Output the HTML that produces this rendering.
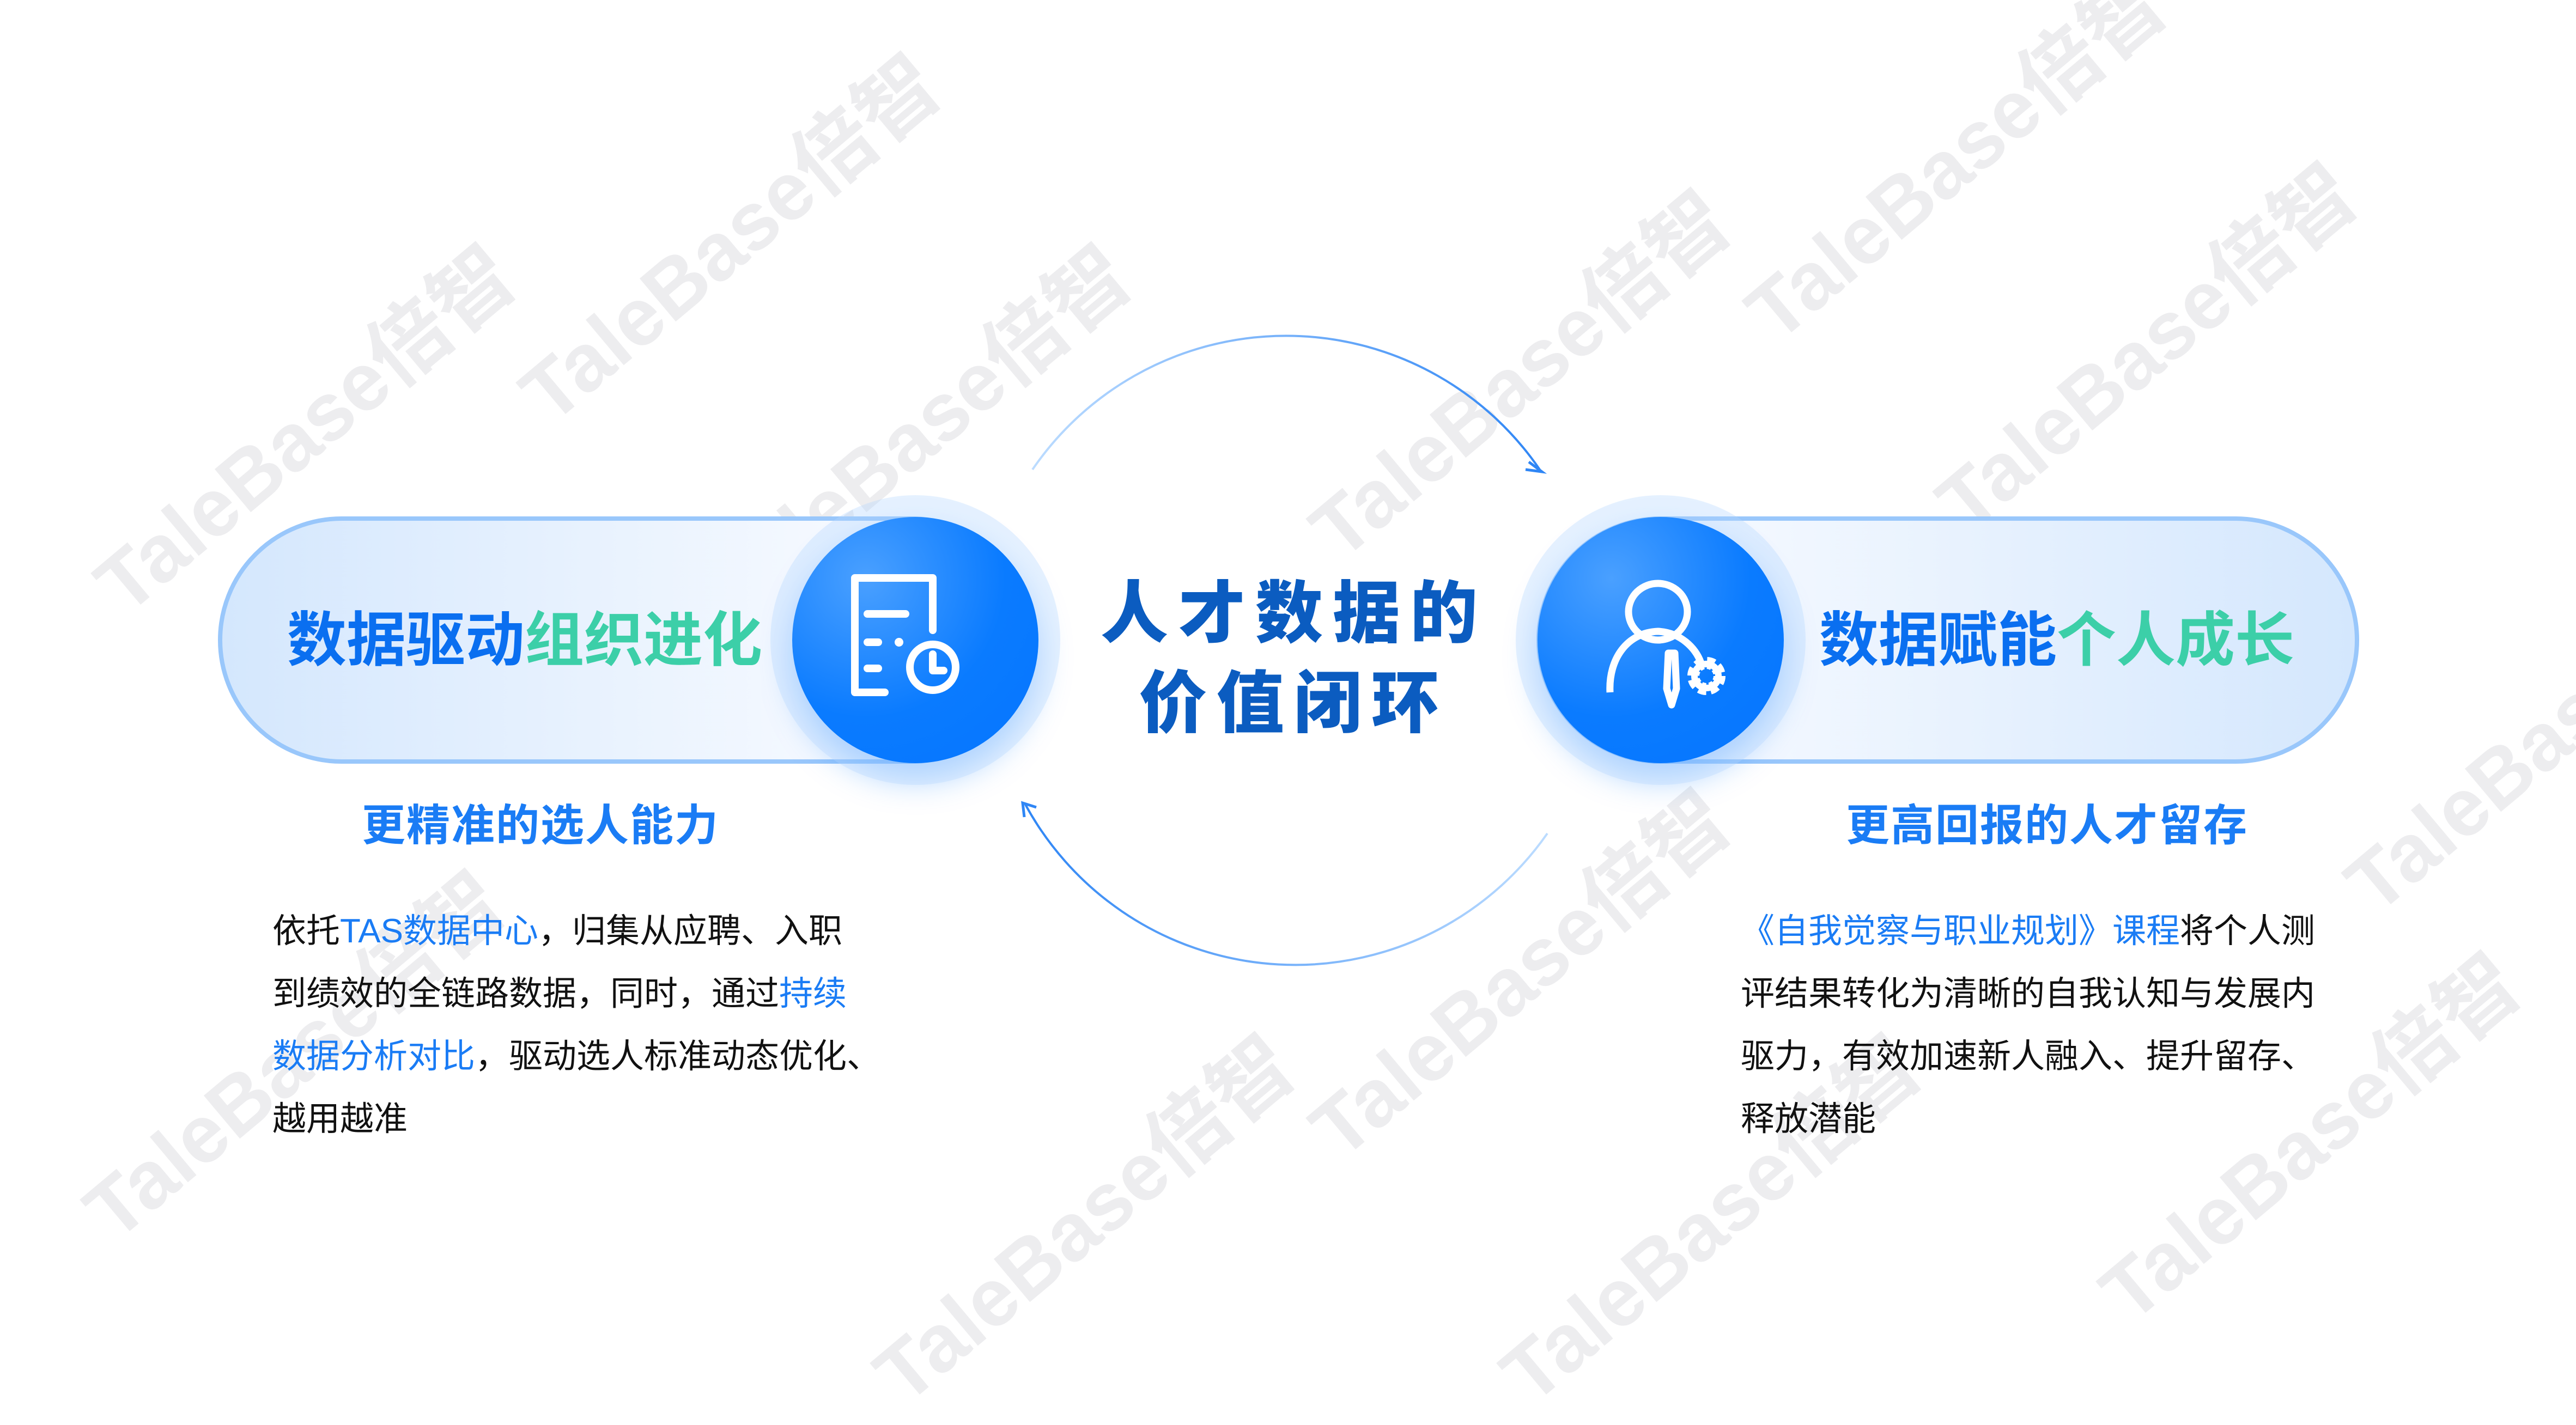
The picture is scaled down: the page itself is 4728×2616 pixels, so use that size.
<!DOCTYPE html>
<html><head><meta charset="utf-8"><style>
*{margin:0;padding:0;box-sizing:border-box}
body{width:4728px;height:2606px;background:#fff;position:relative;overflow:hidden;font-family:"Liberation Sans","Noto Sans CJK SC",sans-serif}
.abs{position:absolute}
.pill{position:absolute;height:454px;border:8px solid #99c7fb;border-radius:227px}
.circ{position:absolute;width:452px;height:452px;border-radius:50%;background:radial-gradient(circle at 30% 25%,#4aa0ff,#0a7bff 55%,#0575ff);box-shadow:0 0 0 40px rgba(180,215,255,.35),0 30px 60px rgba(10,120,255,.35)}
.title{position:absolute;font-size:109px;font-weight:bold;white-space:nowrap;line-height:1}
.sub{position:absolute;font-size:80px;color:#1a7cf5;font-weight:bold;white-space:nowrap;line-height:1;letter-spacing:2px}
.body{position:absolute;font-size:62px;line-height:115px;color:#111;width:1300px;white-space:nowrap}
.b{color:#1a7cf5}
.wm{position:absolute;color:rgba(200,200,205,.33);font-size:150px;font-weight:bold;transform:rotate(-40deg);white-space:nowrap;transform-origin:left top}
</style></head><body>

<div class="wm" style="left:120px;top:1000px">TaleBase倍智</div>
<div class="wm" style="left:900px;top:650px">TaleBase倍智</div>
<div class="wm" style="left:1250px;top:1000px">TaleBase倍智</div>
<div class="wm" style="left:2350px;top:900px">TaleBase倍智</div>
<div class="wm" style="left:3150px;top:500px">TaleBase倍智</div>
<div class="wm" style="left:3500px;top:850px">TaleBase倍智</div>
<div class="wm" style="left:100px;top:2150px">TaleBase倍智</div>
<div class="wm" style="left:1550px;top:2450px">TaleBase倍智</div>
<div class="wm" style="left:2350px;top:2000px">TaleBase倍智</div>
<div class="wm" style="left:2700px;top:2450px">TaleBase倍智</div>
<div class="wm" style="left:3800px;top:2300px">TaleBase倍智</div>
<div class="wm" style="left:4250px;top:1550px">TaleBase倍智</div>

<!-- left pill -->
<div class="pill" style="left:400px;top:948px;width:1500px;background:linear-gradient(90deg,#d4e7fd,#f5f9ff 75%,#fff)"></div>
<div class="circ" style="left:1454px;top:949px"></div>
<svg class="abs" style="left:1454px;top:949px" width="452" height="452" viewBox="0 0 452 452">
 <g fill="none" stroke="#fff" stroke-width="14" stroke-linecap="round" stroke-linejoin="round">
  <path d="M170 322 H115 V112 H258 V208"/>
  <line x1="138" y1="178" x2="208" y2="178"/>
  <line x1="138" y1="230" x2="158" y2="230"/>
  <line x1="138" y1="278" x2="158" y2="278"/>
  <circle cx="258" cy="276" r="42"/>
  <path d="M258 252 V282 H278"/>
 </g>
 <circle cx="196" cy="230" r="8" fill="#fff"/>
</svg>
<div class="title" style="left:527px;top:1122px"><span style="color:#0a6ff0">数据驱动</span><span style="color:#3ccfa8">组织进化</span></div>

<!-- right pill -->
<div class="pill" style="left:2820px;top:948px;width:1510px;background:linear-gradient(90deg,#fff,#f3f8ff 25%,#d4e7fd)"></div>
<div class="circ" style="left:2822px;top:949px"></div>
<svg class="abs" style="left:2822px;top:949px" width="452" height="452" viewBox="0 0 452 452">
 <g fill="none" stroke="#fff" stroke-width="13" stroke-linejoin="round">
  <ellipse cx="221" cy="174" rx="54" ry="52"/>
  <path d="M133 322 C130 260 165 212 221 210 C262 212 290 240 300 268"/>
  <path d="M240 250 L252 250 L255 315 L246 345 L237 315 Z"/>
 </g>
 <circle cx="310" cy="292" r="24" fill="none" stroke="#fff" stroke-width="22" stroke-dasharray="12 7"/>
 <circle cx="310" cy="292" r="22" fill="none" stroke="#fff" stroke-width="12"/>
</svg>
<div class="title" style="left:3339px;top:1122px"><span style="color:#0a6ff0">数据赋能</span><span style="color:#3ccfa8">个人成长</span></div>

<!-- center title -->
<div class="abs" style="left:2000px;top:1045px;width:750px;text-align:center;font-size:124px;font-weight:900;color:#0b5cc0;letter-spacing:18px;line-height:165px">人才数据的<br>价值闭环</div>

<!-- arcs -->
<svg class="abs" style="left:0;top:0" width="4728" height="2606">
 <defs>
  <linearGradient id="g1" x1="1895" y1="0" x2="2830" y2="0" gradientUnits="userSpaceOnUse"><stop offset="0" stop-color="#bcdcff"/><stop offset="1" stop-color="#2f86f5"/></linearGradient>
  <linearGradient id="g2" x1="1880" y1="0" x2="2840" y2="0" gradientUnits="userSpaceOnUse"><stop offset="0" stop-color="#2f86f5"/><stop offset="1" stop-color="#bcdcff"/></linearGradient>
 </defs>
 <path d="M1895 862 A564 564 0 0 1 2826 862" fill="none" stroke="url(#g1)" stroke-width="4"/>
 <path d="M2806 848 L2830 866 L2800 862" fill="none" stroke="#2f86f5" stroke-width="5"/>
 <path d="M1882 1477 A564 564 0 0 0 2840 1530" fill="none" stroke="url(#g2)" stroke-width="4"/>
 <path d="M1880 1500 L1877 1474 L1902 1482" fill="none" stroke="#2f86f5" stroke-width="5"/>
</svg>

<!-- subtitles -->
<div class="sub" style="left:664px;top:1476px">更精准的选人能力</div>
<div class="sub" style="left:3388px;top:1476px">更高回报的人才留存</div>

<div class="body" style="left:500px;top:1652px">依托<span class="b">TAS数据中心</span>，归集从应聘、入职<br>到绩效的全链路数据，同时，通过<span class="b">持续</span><br><span class="b">数据分析对比</span>，驱动选人标准动态优化、<br>越用越准</div>
<div class="body" style="left:3195px;top:1652px"><span class="b">《自我觉察与职业规划》课程</span>将个人测<br>评结果转化为清晰的自我认知与发展内<br>驱力，有效加速新人融入、提升留存、<br>释放潜能</div>

</body></html>
